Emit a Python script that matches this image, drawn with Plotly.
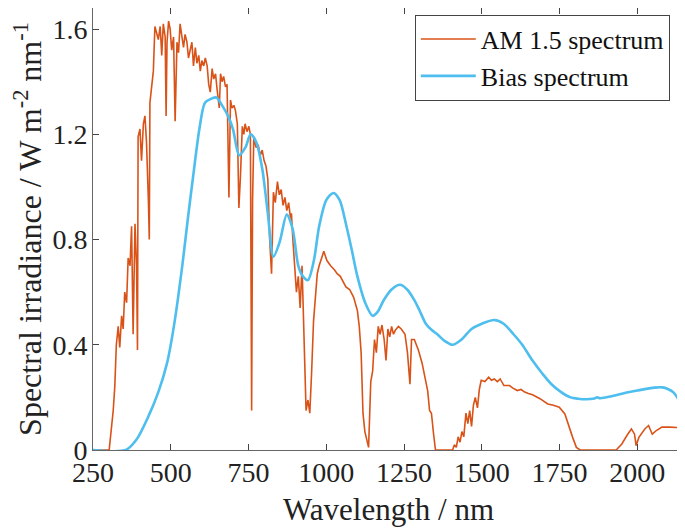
import plotly.graph_objects as go

# AM 1.5 spectrum (wavelength nm, irradiance W m-2 nm-1)
am_wl = [250, 302, 315, 320, 325, 331, 336, 342, 347, 352, 358, 363, 369, 374, 379, 385, 390, 393, 395,
         401, 406, 412, 417, 422, 428, 431, 433, 439, 444, 449, 455, 460, 466, 471, 476, 482, 485, 488,
         493, 498, 503, 509, 514, 517, 520, 525, 530, 536, 541, 546, 552, 557, 563, 568, 573, 579, 584,
         590, 595, 600, 606, 611, 617, 622, 627, 633, 638, 644, 649, 654, 656, 660, 665, 670, 676, 681,
         687, 692, 697, 703, 708, 714, 719, 724, 730, 735, 739, 745, 751, 756, 760, 763, 767, 774, 781,
         788, 794, 800, 806, 812, 818, 824, 830, 836, 843, 849, 855, 861, 867, 873, 879, 885, 888, 892,
         898, 904, 910, 916, 922, 928, 935, 941, 947, 953, 959, 965, 971, 977, 986, 992, 1002, 1014, 1026,
         1035, 1045, 1055, 1063, 1075, 1088, 1100, 1106, 1112, 1118, 1124, 1130, 1136, 1143, 1149, 1155,
         1161, 1167, 1173, 1179, 1186, 1192, 1198, 1204, 1210, 1216, 1222, 1232, 1241, 1253, 1261, 1269,
         1274, 1283, 1296, 1308, 1320, 1326, 1332, 1338, 1345, 1351, 1406, 1412, 1418, 1424, 1430, 1436,
         1442, 1449, 1455, 1461, 1467, 1473, 1479, 1486, 1492, 1498, 1510, 1522, 1531, 1540, 1550, 1559,
         1571, 1589, 1600, 1614, 1626, 1638, 1650, 1663, 1687, 1712, 1730, 1749, 1767, 1780, 1792, 1804,
         1816, 1932, 1950, 1969, 1981, 1991, 1996, 2005, 2024, 2036, 2048, 2061, 2079, 2103, 2125, 2150]
am_irr = [0.0, 0.0, 0.15, 0.24, 0.40, 0.47, 0.39, 0.51, 0.46, 0.60, 0.56, 0.73, 0.70, 0.85, 0.44, 0.86, 0.70, 0.38, 1.19,
          1.22, 1.10, 1.24, 1.27, 1.17, 0.95, 0.80, 1.32, 1.38, 1.44, 1.61, 1.58, 1.56, 1.61, 1.50, 1.62, 1.57, 1.27, 1.55,
          1.63, 1.60, 1.52, 1.57, 1.25, 1.45, 1.55, 1.51, 1.62, 1.57, 1.53, 1.58, 1.55, 1.49, 1.52, 1.55, 1.46, 1.53, 1.47,
          1.50, 1.44, 1.48, 1.46, 1.49, 1.46, 1.39, 1.36, 1.45, 1.41, 1.43, 1.37, 1.31, 1.30, 1.43, 1.40, 1.42, 1.38, 1.39,
          0.96, 1.33, 1.30, 1.31, 1.29, 1.24, 0.92, 1.04, 1.23, 1.20, 1.24, 1.21, 1.23, 1.20, 0.15, 0.95, 1.19, 1.15, 1.16,
          1.12, 1.14, 1.10, 1.08, 1.03, 0.80, 0.67, 0.98, 0.94, 1.02, 0.97, 0.99, 0.93, 0.96, 0.91, 0.94, 0.88, 0.90, 0.81,
          0.71, 0.60, 0.66, 0.54, 0.70, 0.46, 0.15, 0.19, 0.14, 0.30, 0.49, 0.58, 0.67, 0.70, 0.735, 0.755, 0.72, 0.70, 0.685,
          0.67, 0.66, 0.64, 0.62, 0.61, 0.58, 0.53, 0.47, 0.37, 0.14, 0.07, 0.035, 0.01, 0.26, 0.30, 0.42,
          0.37, 0.47, 0.44, 0.475, 0.42, 0.34, 0.46, 0.43, 0.47, 0.44, 0.455, 0.47, 0.46, 0.44, 0.37, 0.25,
          0.42, 0.42, 0.38, 0.33, 0.265, 0.225, 0.15, 0.14, 0.06, 0.0, 0.0, 0.02, 0.01, 0.05, 0.03, 0.07,
          0.05, 0.14, 0.10, 0.15, 0.09, 0.17, 0.20, 0.16, 0.23, 0.265, 0.26, 0.277, 0.265, 0.27, 0.26, 0.27,
          0.245, 0.245, 0.235, 0.226, 0.23, 0.22, 0.215, 0.21, 0.195, 0.175, 0.17, 0.163, 0.137, 0.087, 0.048, 0.01,
          0.0, 0.0, 0.023, 0.06, 0.08, 0.06, 0.017, 0.048, 0.08, 0.093, 0.06, 0.074, 0.087, 0.087, 0.085, 0.084]

# Bias spectrum
bias_wl = [250, 355, 390, 427, 460, 488, 510, 537, 555, 573, 592, 610, 630, 647, 665, 684, 700, 720,
           740, 757, 775, 794, 812, 830, 850, 873, 892, 910, 925, 941, 960, 977, 1000, 1023, 1043,
           1063, 1082, 1100, 1125, 1149, 1165, 1185, 1210, 1237, 1260, 1283, 1300, 1320, 1340, 1357,
           1380, 1406, 1435, 1467, 1500, 1540, 1570, 1602, 1630, 1663, 1695, 1724, 1755, 1785, 1810,
           1834, 1862, 1871, 1880, 1920, 1957, 2000, 2055, 2080, 2098, 2115, 2128, 2140, 2150]
bias_irr = [0.0, 0.0, 0.04, 0.125, 0.22, 0.33, 0.47, 0.70, 0.88, 1.05, 1.22, 1.32, 1.335, 1.34, 1.31, 1.27, 1.22, 1.12,
            1.15, 1.20, 1.17, 1.07, 0.90, 0.735, 0.79, 0.895, 0.84, 0.70, 0.66, 0.646, 0.72, 0.85, 0.95, 0.977, 0.95,
            0.86, 0.76, 0.66, 0.56, 0.51, 0.525, 0.57, 0.61, 0.628, 0.61, 0.57, 0.53, 0.48, 0.455, 0.44,
            0.415, 0.40, 0.42, 0.46, 0.48, 0.494, 0.48, 0.44, 0.40, 0.34, 0.29, 0.25, 0.22, 0.20, 0.195,
            0.193, 0.196, 0.20, 0.197, 0.205, 0.216, 0.226, 0.237, 0.238, 0.232, 0.22, 0.20, 0.17, 0.14]

x_ticks = [250, 500, 750, 1000, 1250, 1500, 1750, 2000]
y_ticks = [0, 0.4, 0.8, 1.2, 1.6]
y_tick_text = ["0", "0.4", "0.8", "1.2", "1.6"]

FONT = "Liberation Serif"

fig = go.Figure()
fig.add_trace(go.Scatter(x=am_wl, y=am_irr, mode="lines", name="AM 1.5 spectrum",
                         line=dict(color="#D95319", width=1.6)))
fig.add_trace(go.Scatter(x=bias_wl, y=bias_irr, mode="lines", name="Bias spectrum",
                         line=dict(color="#4DBEEE", width=2.6, shape="spline", smoothing=0.8)))

axis_common = dict(showline=True, mirror="ticks", linecolor="#666666", linewidth=1,
                   ticks="inside", ticklen=6, tickcolor="#444444", showgrid=False, zeroline=False,
                   automargin=False,
                   tickfont=dict(family=FONT, size=28, color="#222222"))

# the page body adds an 8 px offset, so the margins are shifted to compensate
fig.update_layout(
    width=685, height=532,
    margin=dict(l=85, r=9, t=0, b=90),
    paper_bgcolor="white", plot_bgcolor="white",
    font=dict(family=FONT, color="#222222"),
    xaxis=dict(range=[250, 2150], tickvals=x_ticks, ticklabelstandoff=-3,
               title=dict(text="Wavelength / nm", font=dict(family=FONT, size=31), standoff=11),
               **axis_common),
    yaxis=dict(range=[0, 1.68], tickvals=y_ticks, ticktext=y_tick_text, ticklabelstandoff=-1,
               title=dict(text="Spectral irradiance / W m<sup>-2</sup> nm<sup>-1</sup>",
                          font=dict(family=FONT, size=32), standoff=4),
               **axis_common),
    legend=dict(x=0.976, y=0.985, xanchor="right", yanchor="top",
                bgcolor="white", bordercolor="#444444", borderwidth=1,
                font=dict(family=FONT, size=26, color="#111111"),
                tracegroupgap=0, itemwidth=55),
    showlegend=True,
)

fig.write_html("out.html")
